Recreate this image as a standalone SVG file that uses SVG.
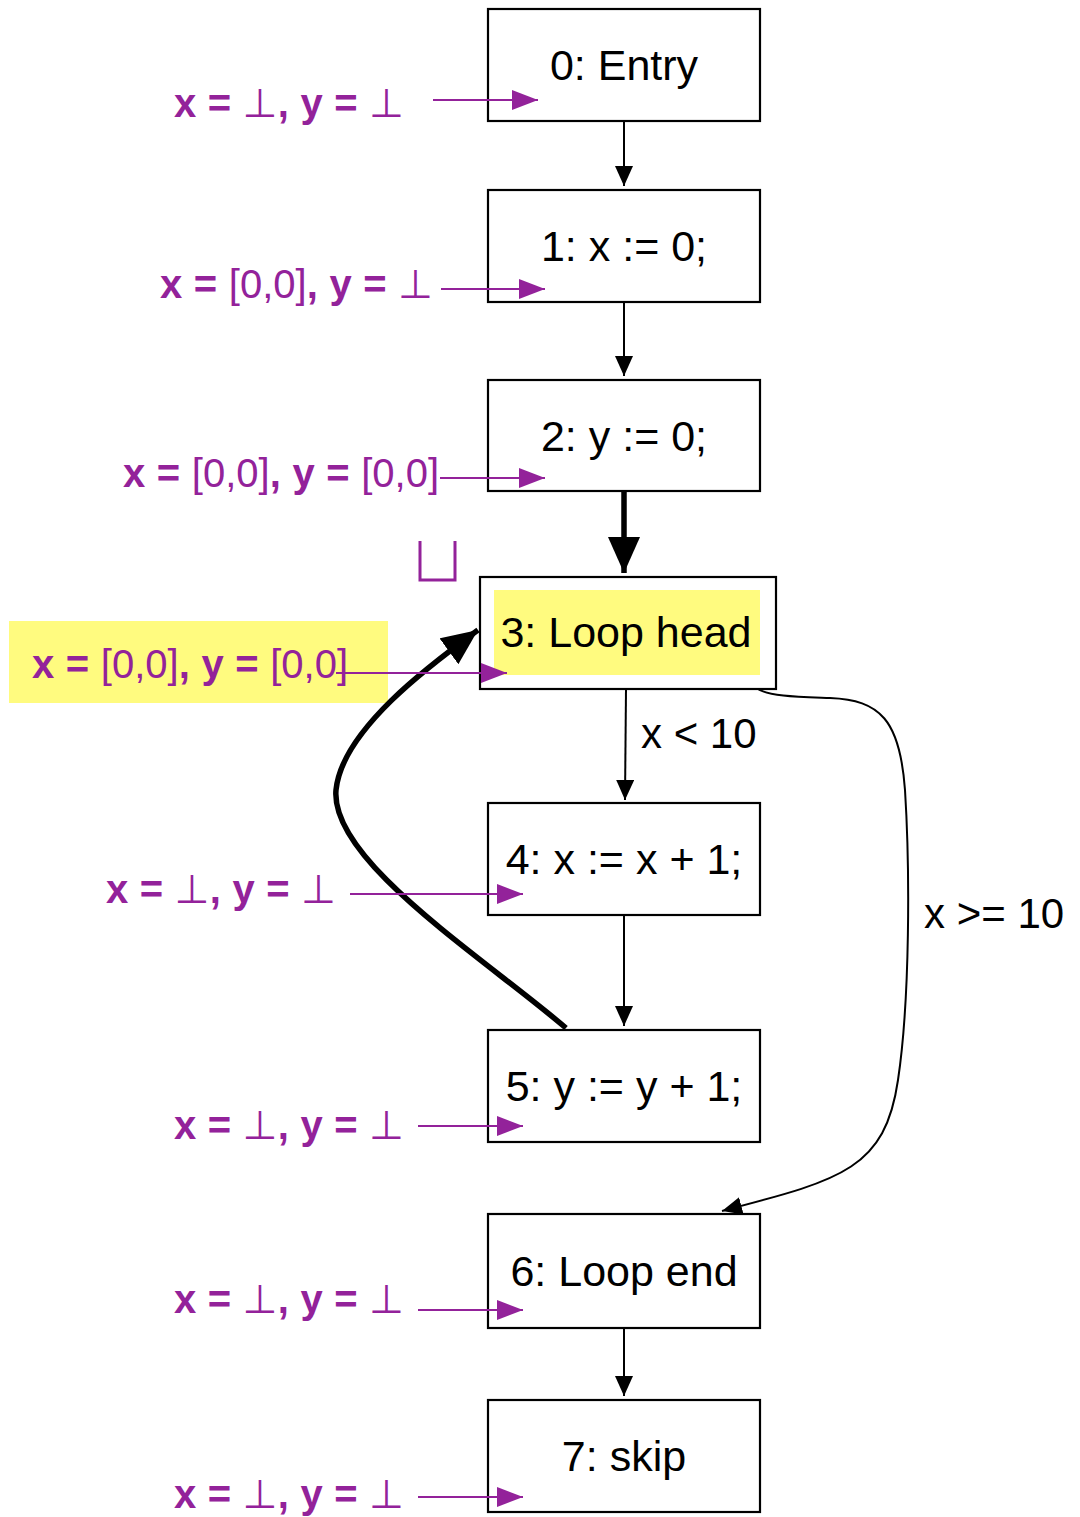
<svg xmlns="http://www.w3.org/2000/svg" width="1080" height="1517" viewBox="0 0 1080 1517">
<style>
.box{fill:#fff;stroke:#000;stroke-width:2.2}
.lbl{font-family:"Liberation Sans",Arial,sans-serif;font-size:43px;fill:#000;text-anchor:middle}
.elbl{font-family:"Liberation Sans",Arial,sans-serif;font-size:42px;fill:#000}
.ann{font-family:"Liberation Sans","DejaVu Sans",sans-serif;font-size:40px;fill:#93229A;word-spacing:0.5px}
.ann .b{font-weight:bold}
.ann .l{font-weight:normal}
.pa{stroke:#93229A;stroke-width:2;fill:none;marker-end:url(#pm)}
.e{stroke:#000;stroke-width:2;fill:none;marker-end:url(#bm)}
.et{stroke:#000;stroke-width:5.5;fill:none;marker-end:url(#tm)}
</style>
<defs>
<marker id="pm" markerUnits="userSpaceOnUse" markerWidth="30" markerHeight="22" refX="26" refY="10" orient="auto"><path d="M0,0 L26,10 L0,20 Z" fill="#93229A"/></marker>
<marker id="bm" markerUnits="userSpaceOnUse" markerWidth="24" markerHeight="20" refX="20" refY="9" orient="auto"><path d="M0,0 L20,9 L0,18 Z" fill="#000"/></marker>
<marker id="tm" markerUnits="userSpaceOnUse" markerWidth="40" markerHeight="36" refX="36" refY="16" orient="auto"><path d="M0,0 L36,16 L0,32 Z" fill="#000"/></marker>
</defs>

<rect x="9" y="621" width="379" height="82" fill="#FFFB7F"/>

<g id="connectors">
<path class="e" d="M624,121 L624,186"/>
<path class="e" d="M624,302 L624,376"/>
<path class="et" d="M624,491 L624,573"/>
<path class="e" d="M626,689 L625,800"/>
<path class="e" d="M624,915 L624,1026"/>
<path class="et" d="M566,1028 C480,955 330,860 336,790 C342,730 430,665 478,630"/>
<path class="e" d="M756,688 C770,697 800,697 830,698 C880,700 900,720 905,790 C910,870 910,1000 898,1080 C885,1170 840,1180 722,1211"/>
<path class="e" d="M624,1328 L624,1396"/>
<text class="elbl" x="641" y="748">x &lt; 10</text>
<text class="elbl" x="924" y="928">x &gt;= 10</text>
</g>

<g id="n0"><rect class="box" x="488" y="9" width="272" height="112"/><text class="lbl" x="624" y="80">0: Entry</text></g>
<g id="n1"><rect class="box" x="488" y="190" width="272" height="112"/><text class="lbl" x="624" y="261">1: x := 0;</text></g>
<g id="n2"><rect class="box" x="488" y="380" width="272" height="111"/><text class="lbl" x="624" y="451">2: y := 0;</text></g>
<g id="n3"><rect class="box" x="480" y="577" width="296" height="112"/><rect x="494" y="590" width="266" height="85" fill="#FFFB7F"/><text class="lbl" x="626" y="647">3: Loop head</text></g>
<g id="n4"><rect class="box" x="488" y="803" width="272" height="112"/><text class="lbl" x="624" y="874">4: x := x + 1;</text></g>
<g id="n5"><rect class="box" x="488" y="1030" width="272" height="112"/><text class="lbl" x="624" y="1101">5: y := y + 1;</text></g>
<g id="n6"><rect class="box" x="488" y="1214" width="272" height="114"/><text class="lbl" x="624" y="1286">6: Loop end</text></g>
<g id="n7"><rect class="box" x="488" y="1400" width="272" height="112"/><text class="lbl" x="624" y="1471">7: skip</text></g>

<g id="annotations">
<text class="ann" x="174" y="117"><tspan class="b">x = </tspan><tspan class="l">⊥</tspan><tspan class="b">, y = </tspan><tspan class="l">⊥</tspan></text>
<path class="pa" d="M433,100 L538,100"/>
<text class="ann" x="160" y="298"><tspan class="b">x = </tspan><tspan class="l">[0,0]</tspan><tspan class="b">, y = </tspan><tspan class="l">⊥</tspan></text>
<path class="pa" d="M441,289 L545,289"/>
<text class="ann" x="123" y="487"><tspan class="b">x = </tspan><tspan class="l">[0,0]</tspan><tspan class="b">, y = </tspan><tspan class="l">[0,0]</tspan></text>
<path class="pa" d="M440,478 L545,478"/>
<path d="M420,541 L420,580 L455,580 L455,541" fill="none" stroke="#93229A" stroke-width="3"/>
<text class="ann" x="32" y="678"><tspan class="b">x = </tspan><tspan class="l">[0,0]</tspan><tspan class="b">, y = </tspan><tspan class="l">[0,0]</tspan></text>
<path class="pa" d="M336,673 L507,673"/>
<text class="ann" x="106" y="903"><tspan class="b">x = </tspan><tspan class="l">⊥</tspan><tspan class="b">, y = </tspan><tspan class="l">⊥</tspan></text>
<path class="pa" d="M350,894 L523,894"/>
<text class="ann" x="174" y="1139"><tspan class="b">x = </tspan><tspan class="l">⊥</tspan><tspan class="b">, y = </tspan><tspan class="l">⊥</tspan></text>
<path class="pa" d="M418,1126 L523,1126"/>
<text class="ann" x="174" y="1313"><tspan class="b">x = </tspan><tspan class="l">⊥</tspan><tspan class="b">, y = </tspan><tspan class="l">⊥</tspan></text>
<path class="pa" d="M418,1310 L523,1310"/>
<text class="ann" x="174" y="1508"><tspan class="b">x = </tspan><tspan class="l">⊥</tspan><tspan class="b">, y = </tspan><tspan class="l">⊥</tspan></text>
<path class="pa" d="M418,1497 L523,1497"/>
</g>
</svg>
